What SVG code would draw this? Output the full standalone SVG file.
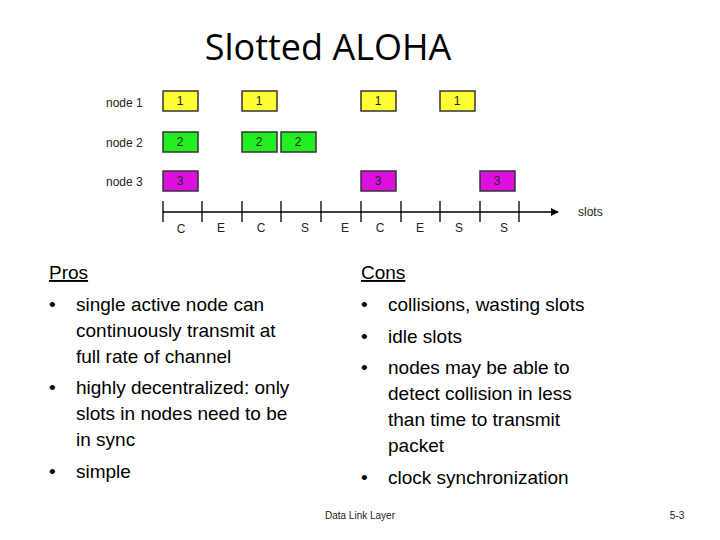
<svg xmlns="http://www.w3.org/2000/svg" width="720" height="540" viewBox="0 0 720 540">
<defs>
<style>
.t{font-family:"Open Sans","Liberation Sans",sans-serif;fill:#000}
.b{font-size:19px;font-family:"Liberation Sans",sans-serif}
.s{font-family:"Liberation Sans",sans-serif;font-size:12px;fill:#222}
.bx{stroke:#333;stroke-width:1.5}
.y{fill:#ffff33}.g{fill:#22ee22}.m{fill:#dd11dd}
.ax{stroke:#000;stroke-width:1.3;fill:none}
</style>
<marker id="ar" viewBox="0 0 10 10" refX="9" refY="5" markerWidth="6" markerHeight="6" orient="auto"><path d="M0,0L10,5L0,10z" fill="#000"/></marker>
</defs>
<rect width="720" height="540" fill="#fff"/>
<text x="328" y="60" text-anchor="middle" class="t" font-size="36" font-family="Liberation Sans">Slotted ALOHA</text>
<g class="s">
<text x="106" y="107">node 1</text><text x="106" y="147">node 2</text><text x="106" y="186">node 3</text>
<text x="578" y="216">slots</text>
</g>
<g id="frames" class="s" text-anchor="middle">
<rect class="bx y" x="163" y="91" width="35" height="20"/><text x="180" y="105">1</text>
<rect class="bx y" x="242" y="91" width="35" height="20"/><text x="259" y="105">1</text>
<rect class="bx y" x="361" y="91" width="35" height="20"/><text x="378" y="105">1</text>
<rect class="bx y" x="440" y="91" width="35" height="20"/><text x="457" y="105">1</text>
<rect class="bx g" x="163" y="132" width="35" height="20"/><text x="180" y="146">2</text>
<rect class="bx g" x="242" y="132" width="35" height="20"/><text x="259" y="146">2</text>
<rect class="bx g" x="281" y="132" width="35" height="20"/><text x="298" y="146">2</text>
<rect class="bx m" x="163" y="171" width="35" height="20"/><text x="180" y="185">3</text>
<rect class="bx m" x="361" y="171" width="35" height="20"/><text x="378" y="185">3</text>
<rect class="bx m" x="480" y="171" width="35" height="20"/><text x="497" y="185">3</text>
</g>
<g id="axis">
<line class="ax" x1="163" y1="212" x2="558" y2="212" marker-end="url(#ar)"/>
<path class="ax" d="M163,201V222M242,201V222M281,201V222M440,201V222M480,201V222"/>
<path class="ax" stroke-width="2.5" d="M202,201V222M321,201V222M361,201V222M401,201V222M519,201V222"/>
</g>
<g class="s" text-anchor="middle">
<text x="181" y="233">C</text><text x="221" y="232">E</text><text x="261" y="232">C</text><text x="305" y="232">S</text><text x="345" y="232">E</text><text x="380" y="232">C</text><text x="420" y="232">E</text><text x="459" y="232">S</text><text x="504" y="232">S</text>
</g>
<g class="t b">
<text x="49" y="279" text-decoration="underline">Pros</text>
<text x="49" y="311">•<tspan x="76">single active node can</tspan></text>
<text x="76" y="337">continuously transmit at</text>
<text x="76" y="363">full rate of channel</text>
<text x="49" y="394">•<tspan x="76">highly decentralized: only</tspan></text>
<text x="76" y="420">slots in nodes need to be</text>
<text x="76" y="446">in sync</text>
<text x="49" y="478">•<tspan x="76">simple</tspan></text>
<text x="361" y="279" text-decoration="underline">Cons</text>
<text x="361" y="311">•<tspan x="388">collisions, wasting slots</tspan></text>
<text x="361" y="343">•<tspan x="388">idle slots</tspan></text>
<text x="361" y="374">•<tspan x="388">nodes may be able to</tspan></text>
<text x="388" y="400">detect collision in less</text>
<text x="388" y="426">than time to transmit</text>
<text x="388" y="452">packet</text>
<text x="361" y="484">•<tspan x="388">clock synchronization</tspan></text>
</g>
<text x="360" y="519" text-anchor="middle" class="s" font-size="10" style="font-size:10px">Data Link Layer</text>
<text x="677" y="519" text-anchor="middle" class="s" style="font-size:10px">5-3</text>
</svg>
